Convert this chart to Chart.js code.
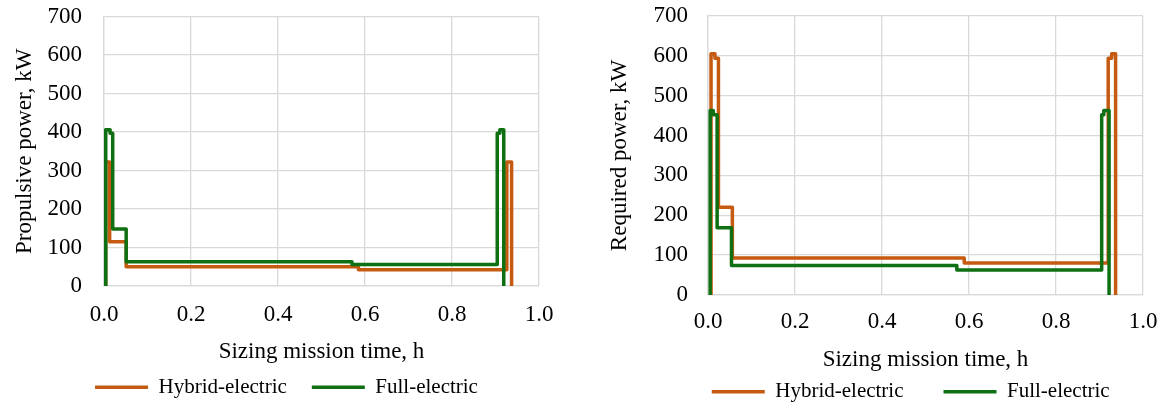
<!DOCTYPE html>
<html>
<head>
<meta charset="utf-8">
<script src="https://cdn.jsdelivr.net/npm/chart.js@4.4.1/dist/chart.umd.min.js"></script>
<style>
  html, body { margin: 0; padding: 0; background: #fff; overflow: hidden; }
  .wrap { position: absolute; top: 0; height: 402px; }
  #wrapL { left: 0; width: 570px; }
  #wrapR { left: 582px; width: 582px; }
</style>
</head>
<body>
<div class="wrap" id="wrapL"><canvas id="propChart" width="570" height="402"></canvas></div>
<div class="wrap" id="wrapR"><canvas id="reqChart" width="582" height="402"></canvas></div>

<script>
// ── Data (time in h, power in kW; each value holds until the next time) ──────
const propHybridT = [0.004, 0.004, 0.013, 0.051, 0.585, 0.926, 0.937];
const propHybridP = [0, 322, 115, 50, 42, 322, 0];
const propFullT   = [0.004, 0.004, 0.014, 0.020, 0.051, 0.570, 0.904, 0.910, 0.919];
const propFullP   = [0, 406, 397, 148, 63, 56, 397, 406, 0];

const reqHybridT  = [0.007, 0.007, 0.016, 0.024, 0.056, 0.589, 0.920, 0.928, 0.937];
const reqHybridP  = [0, 605, 594, 220, 93, 80, 594, 605, 0];
const reqFullT    = [0.005, 0.005, 0.012, 0.021, 0.054, 0.572, 0.905, 0.910, 0.922];
const reqFullP    = [0, 463, 452, 169, 74, 63, 452, 463, 0];

const seriesNames = ['Hybrid-electric', 'Full-electric'];
const xTicks = [0, 0.2, 0.4, 0.6, 0.8, 1.0];
const yMax   = 700;

// ── Styling ───────────────────────────────────────────────────────────────────
const FONT   = "'Liberation Serif', 'Times New Roman', serif";
const ORANGE = '#C55A11';
const GREEN  = '#0E7012';
const GRID   = '#d9d9d9';

// moves the legend box after layout (Excel puts it off-centre)
const legendShift = {
  id: 'legendShift',
  afterLayout(chart, args, opts) {
    const lg = chart.legend;
    if (!lg) return;
    lg.left += opts.dx; lg.right += opts.dx;
    lg.top  += opts.dy; lg.bottom += opts.dy;
  }
};

function toPoints(t, p) {
  return t.map((x, i) => ({ x, y: p[i] }));
}

function lineSet(label, t, p, color, order) {
  return {
    label,
    data: toPoints(t, p),
    showLine: true,
    stepped: true,
    borderColor: color,
    backgroundColor: color,
    borderWidth: 3.5,
    borderJoinStyle: 'round',
    borderCapStyle: 'round',
    pointRadius: 0,
    pointHoverRadius: 0,
    pointBorderWidth: 3.5,
    pointBorderColor: color,
    order,
  };
}

function makeChart(id, yTitle, hT, hP, fT, fP, L) {
  return new Chart(document.getElementById(id), {
    type: 'scatter',
    data: { datasets: [
      lineSet(seriesNames[0], hT, hP, ORANGE, 1),
      lineSet(seriesNames[1], fT, fP, GREEN, 0),
    ]},
    options: {
      responsive: false,
      animation: false,
      layout: { padding: { top: L.padTop, right: L.padRight, left: 0, bottom: 0 } },
      scales: {
        x: {
          type: 'linear', min: 0, max: 1,
          afterFit: s => { s.height = L.xHeight; s.paddingLeft = 0; s.paddingRight = 0; },
          afterBuildTicks: s => { s.ticks = xTicks.map(v => ({ value: v })); },
          ticks: { padding: L.xTickPad, color: '#000', font: { family: FONT, size: 23 },
                   callback: v => v.toFixed(1) },
          grid:   { color: GRID, lineWidth: 1.3, drawTicks: false },
          border: { color: GRID, width: 1.3 },
          title:  { display: true, text: 'Sizing mission time, h', color: '#000',
                    font: { family: FONT, size: 23 }, padding: { top: 0, bottom: L.xTitlePad } },
        },
        y: {
          min: 0, max: yMax,
          afterFit: s => { s.width = L.yWidth; s.paddingTop = 0; s.paddingBottom = 0; },
          ticks: { stepSize: 100, padding: L.yTickPad, color: '#000', font: { family: FONT, size: 23 } },
          grid:   { color: GRID, lineWidth: 1.3, drawTicks: false },
          border: { color: GRID, width: 1.3 },
          title:  { display: true, text: yTitle, color: '#000',
                    font: { family: FONT, size: 23 }, padding: { top: L.yTitlePad, bottom: 0 } },
        },
      },
      plugins: {
        tooltip: { enabled: false },
        legendShift: { dx: L.dx, dy: L.dy },
        legend: {
          position: 'bottom',
          labels: {
            usePointStyle: true, pointStyle: 'line', pointStyleWidth: 53,
            padding: L.legendPad, color: '#000', font: { family: FONT, size: 21 },
            sort: (a, b) => a.datasetIndex - b.datasetIndex,
          },
        },
      },
    },
    plugins: [legendShift],
  });
}

makeChart('propChart', 'Propulsive power, kW', propHybridT, propHybridP, propFullT, propFullP, {
  padTop: 16.5, padRight: 31, yWidth: 104, yTickPad: 22, yTitlePad: 11.2,
  xHeight: 60, xTickPad: 15, xTitlePad: -19.5, legendPad: 25, dx: 17, dy: 5.8,
});

makeChart('reqChart', 'Required power, kW', reqHybridT, reqHybridP, reqFullT, reqFullP, {
  padTop: 16, padRight: 21, yWidth: 126, yTickPad: 20, yTitlePad: 24.2,
  xHeight: 36, xTickPad: 13.2, xTitlePad: -42.8, legendPad: 40, dx: 48.2, dy: 10.2,
});
</script>
</body>
</html>
